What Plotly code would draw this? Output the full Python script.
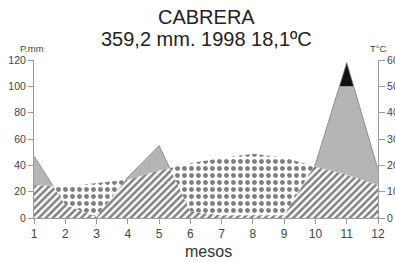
import numpy as np
import plotly.graph_objects as go

# ---- data ----
months = [1, 2, 3, 4, 5, 6, 7, 8, 9, 10, 11, 12]
precip_mm = [47, 10, 1, 31, 55, 5, 2, 2, 2, 41, 118, 37]
temp_c = [12.5, 12, 13.3, 14.5, 18, 20.8, 22.8, 24.4, 23, 19.5, 16.5, 12.5]
month_labels = [str(m) for m in months]
title_lines = ["CABRERA", "359,2 mm. 1998 18,1ºC"]
CAP = 100  # precipitation above this drawn black

P = np.array(precip_mm, float)
T = 2 * np.array(temp_c, float)  # temperature in precipitation units (P = 2T)
X = np.array(months, float)

# x grid: months plus exact crossings of the polylines (P=T, P=CAP)
xs = [X[0]]
for i in range(len(X) - 1):
    cuts = []
    for a0, a1 in [(P[i] - T[i], P[i + 1] - T[i + 1]), (P[i] - CAP, P[i + 1] - CAP)]:
        if a0 * a1 < 0:
            cuts.append(X[i] + (X[i + 1] - X[i]) * a0 / (a0 - a1))
    xs += sorted(cuts)
    xs.append(X[i + 1])
xs = np.array(xs)
Pi = np.interp(xs, X, P)
Ti = np.interp(xs, X, T)

low = np.minimum(Pi, Ti)
gray_top = np.maximum(Ti, np.minimum(Pi, CAP))
black_top = np.maximum(Pi, gray_top)

fig = go.Figure()
fig.add_trace(go.Scatter(x=xs, y=np.zeros_like(xs), mode="lines", line=dict(width=0),
                         hoverinfo="skip", showlegend=False))
fig.add_trace(go.Scatter(x=xs, y=low, mode="lines", line=dict(width=0), fill="tonexty",
                         fillcolor="white",
                         fillpattern=dict(shape="/", fgcolor="#000", bgcolor="white",
                                          size=5, solidity=0.5),
                         showlegend=False))
fig.add_trace(go.Scatter(x=xs, y=Ti, mode="lines", line=dict(width=0), fill="tonexty",
                         fillcolor="white",
                         fillpattern=dict(shape=".", fgcolor="#000", bgcolor="white",
                                          size=7, solidity=0.4),
                         showlegend=False))
fig.add_trace(go.Scatter(x=xs, y=gray_top, mode="lines", line=dict(width=0), fill="tonexty",
                         fillcolor="#b5b5b5", showlegend=False))
fig.add_trace(go.Scatter(x=xs, y=black_top, mode="lines", line=dict(width=0), fill="tonexty",
                         fillcolor="#111111", showlegend=False))
# thin outline of the wet part of the precipitation curve
p_line = [p if p >= t - 1e-9 else None for p, t in zip(Pi, Ti)]
fig.add_trace(go.Scatter(x=xs, y=p_line, mode="lines", line=dict(width=0.8, color="#808080"),
                         connectgaps=False, showlegend=False))
# invisible trace for the right axis
fig.add_trace(go.Scatter(x=X, y=np.array(temp_c), yaxis="y2", mode="lines",
                         line=dict(width=0), hoverinfo="skip", showlegend=False))

font_family = "Liberation Sans, Arial, sans-serif"
axis_col = "#9a9a9a"
fig.update_layout(
    width=395, height=263,
    margin=dict(l=34, r=17, t=60, b=45),
    paper_bgcolor="white", plot_bgcolor="white",
    font=dict(family=font_family, color="#333"),
    xaxis=dict(range=[1, 12], tickmode="array", tickvals=months, ticktext=month_labels,
               automargin=False, ticklabeloverflow="allow",
               showgrid=False, zeroline=False, showline=True, linecolor=axis_col, linewidth=1,
               ticks="outside", ticklen=5, tickcolor=axis_col,
               tickfont=dict(size=12, color="#444")),
    yaxis=dict(range=[0, 120], tickmode="array", tickvals=[0, 20, 40, 60, 80, 100, 120],
               automargin=False, ticklabeloverflow="allow",
               showgrid=False, zeroline=False, showline=True, linecolor=axis_col, linewidth=1,
               ticks="outside", ticklen=5, tickcolor=axis_col,
               tickfont=dict(size=10.5, color="#444")),
    yaxis2=dict(range=[0, 60], overlaying="y", side="right", automargin=False,
                ticklabeloverflow="allow",
                tickmode="array", tickvals=[0, 10, 20, 30, 40, 50, 60],
                showgrid=False, zeroline=False, showline=True, linecolor=axis_col, linewidth=1,
                ticks="outside", ticklen=6, tickcolor=axis_col,
                tickfont=dict(size=10.5, color="#444")),
    annotations=[
        dict(text=title_lines[0], xref="paper", yref="paper", x=0.5, y=1.269,
             xanchor="center", yanchor="middle", showarrow=False,
             font=dict(size=20, color="#222")),
        dict(text=title_lines[1], xref="paper", yref="paper", x=0.5, y=1.130,
             xanchor="center", yanchor="middle", showarrow=False,
             font=dict(size=20, color="#222")),
        dict(text="P.mm", xref="paper", yref="paper", x=-0.006, y=1.073,
             xanchor="center", yanchor="middle", showarrow=False,
             font=dict(size=9.5, color="#444")),
        dict(text="T°C", xref="paper", yref="paper", x=1.0, y=1.073,
             xanchor="center", yanchor="middle", showarrow=False,
             font=dict(size=9.5, color="#444")),
        dict(text="mesos", xref="paper", yref="paper", x=0.506, y=-0.21,
             xanchor="center", yanchor="middle", showarrow=False,
             font=dict(size=16, color="#333")),
    ],
)

fig.write_html("out.html", config={"displayModeBar": False},
               post_script="document.body.style.margin='0';")
